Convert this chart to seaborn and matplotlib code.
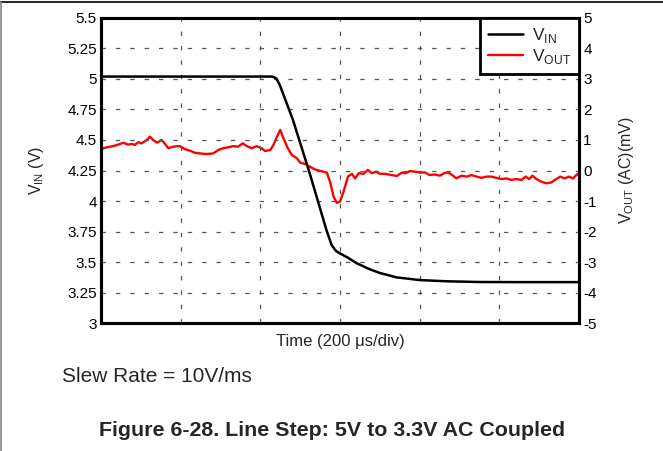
## line step response: VIN (left axis) and VOUT AC coupled (right axis)
import matplotlib
matplotlib.use("Agg")
import matplotlib.pyplot as plt
import pandas as pd
import seaborn as sns
from matplotlib.lines import Line2D

# time in us (200 us/div, 6 div), VIN in V
vin_t = [0, 200, 430, 440, 449, 482, 524, 566, 579, 590, 600, 620, 642,
         675, 700, 742, 800, 867, 951, 1050, 1200]
vin_v = [5.02, 5.02, 5.02, 5.005, 4.95, 4.664, 4.227, 3.762, 3.639, 3.59, 3.57,
         3.535, 3.49, 3.44, 3.41, 3.374, 3.352, 3.342, 3.336, 3.335, 3.335]

# VOUT (AC) in mV
vout_t = [0, 14, 31, 48, 56, 68, 77, 85, 94, 102, 115, 123, 131, 141, 152, 161,
          169, 181, 198, 211, 223, 236, 248, 265, 282, 294, 307, 319, 332, 344,
          356, 366, 378, 391, 403, 412, 425, 433, 442, 450, 458, 469, 479, 492,
          500, 513, 525, 538, 550, 567, 575, 584, 592, 600, 609, 620, 630, 638,
          647, 659, 670, 680, 690, 701, 713, 730, 743, 755, 764, 776, 789, 801,
          813, 825, 838, 851, 861, 871, 884, 892, 905, 918, 930, 943, 955, 968,
          980, 993, 1005, 1018, 1030, 1043, 1056, 1066, 1075, 1083, 1093, 1106,
          1118, 1131, 1143, 1153, 1164, 1175, 1185, 1195, 1200]
vout_mv = [0.70, 0.76, 0.80, 0.87, 0.91, 0.85, 0.87, 0.84, 0.93, 0.89, 1.0, 1.11,
           1.0, 0.91, 1.0, 0.87, 0.73, 0.78, 0.80, 0.70, 0.65, 0.58, 0.56, 0.54,
           0.56, 0.67, 0.73, 0.76, 0.80, 0.78, 0.89, 0.80, 0.73, 0.80, 0.73, 0.64,
           0.67, 0.84, 1.11, 1.33, 1.06, 0.73, 0.51, 0.40, 0.26, 0.21, 0.12, 0.03,
           -0.01, -0.07, -0.37, -0.86, -1.06, -1.02, -0.69, -0.20, -0.11, -0.26,
           -0.09, -0.11, 0.02, -0.09, -0.04, -0.11, -0.11, -0.15, -0.18, -0.07,
           -0.09, -0.02, -0.04, -0.07, -0.06, -0.15, -0.13, -0.17, -0.09, -0.06,
           -0.17, -0.26, -0.17, -0.20, -0.15, -0.20, -0.24, -0.20, -0.20, -0.24,
           -0.28, -0.26, -0.31, -0.28, -0.31, -0.20, -0.28, -0.17, -0.28, -0.37,
           -0.42, -0.39, -0.28, -0.20, -0.26, -0.20, -0.26, -0.13, -0.10]

left_ticks = [3, 3.25, 3.5, 3.75, 4, 4.25, 4.5, 4.75, 5, 5.25, 5.5]
left_labels = ["3", "3.25", "3.5", "3.75", "4", "4.25", "4.5", "4.75", "5", "5.25", "5.5"]
right_ticks = [-5, -4, -3, -2, -1, 0, 1, 2, 3, 4, 5]
x_grid = [0, 200, 400, 600, 800, 1000, 1200]

df_in = pd.DataFrame({"t": vin_t, "v": vin_v})
df_out = pd.DataFrame({"t": vout_t, "v": vout_mv})

sns.set_style("white")
plt.rcParams["font.family"] = ["Liberation Sans", "DejaVu Sans"]
plt.rcParams["mathtext.fontset"] = "custom"
plt.rcParams["mathtext.rm"] = "Liberation Sans"

fig = plt.figure(figsize=(6.63, 4.51), dpi=100)
ax = fig.add_axes([0.1523, 0.2838, 0.7210, 0.6763])
ax2 = ax.twinx()
ax.set_zorder(ax2.get_zorder() + 1)
ax.patch.set_visible(False)

sns.lineplot(data=df_out, x="t", y="v", ax=ax2, color="#ff0000", linewidth=1.7)
sns.lineplot(data=df_in, x="t", y="v", ax=ax, color="black", linewidth=1.8)

ax.set_xlim(0, 1200)
ax.set_ylim(3, 5.5)
ax2.set_ylim(-5, 5)
ax.set_xticks(x_grid)
ax.set_xticklabels([])
ax.set_yticks(left_ticks)
ax.set_yticklabels(left_labels)
ax2.set_yticks(right_ticks)
ax2.set_yticklabels([str(v) for v in right_ticks])

grid_kw = dict(color="#555555", linestyle=(0, (3.5, 8)), linewidth=0.9)
for y in left_ticks[1:-1]:
    ax.axhline(y, zorder=0.5, **grid_kw)
for x in x_grid[1:-1]:
    ax.axvline(x, zorder=0.5, **grid_kw)

for a in (ax, ax2):
    a.tick_params(length=0, labelsize=11, pad=3, colors="black")
    for s in a.spines.values():
        s.set_linewidth(2.2)
        s.set_color("black")

ax.set_xlabel("Time (200 \u03bcs/div)", fontsize=12, labelpad=5)
ax.set_ylabel(r"V$_{\mathregular{IN}}$ (V)", fontsize=11.5, labelpad=15)
ax2.set_ylabel(r"V$_{\mathregular{OUT}}$ (AC)(mV)", fontsize=11.5, labelpad=15)

handles = [Line2D([], [], color="black", linewidth=1.8),
           Line2D([], [], color="#ff0000", linewidth=1.7)]
leg = ax.legend(handles, [r"V$_{\mathregular{IN}}$", r"V$_{\mathregular{OUT}}$"],
                loc="upper right", borderaxespad=0, fontsize=12.5, fancybox=False,
                framealpha=1, edgecolor="black", handlelength=2.0,
                labelspacing=0.15, borderpad=0.45, handletextpad=0.55)
leg.get_frame().set_linewidth(2)
leg.set_zorder(5)

fig.text(62 / 663, 1 - 376 / 451, "Slew Rate = 10V/ms", fontsize=15, va="center", ha="left")
fig.text(332 / 663, 1 - 430 / 451, "Figure 6-28. Line Step: 5V to 3.3V AC Coupled",
         fontsize=15.4, fontweight="bold", va="center", ha="center")

# page frame
fig.add_artist(Line2D([0, 1], [1 - 2 / 451, 1 - 2 / 451], color="black", linewidth=1.2))
fig.add_artist(Line2D([1 / 663, 1 / 663], [0, 1 - 2 / 451], color="#888888", linewidth=1.2))

fig.savefig("out.png", dpi=100)
